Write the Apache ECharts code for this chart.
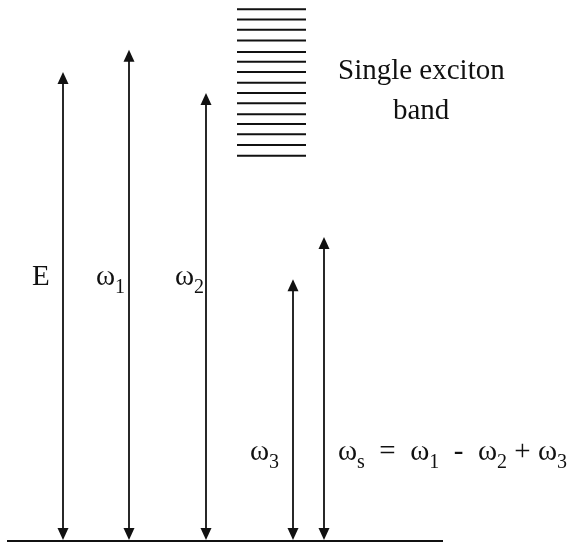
<!DOCTYPE html>
<html><head><meta charset="utf-8">
<script src="https://cdn.jsdelivr.net/npm/echarts@6/dist/echarts.min.js"></script>
<style>html,body{margin:0;padding:0;background:#fff}#c{width:572px;height:545px}</style>
</head><body><div id="c"></div>
<script>
// ---- data ----
const arrowNames = ['E', 'ω1', 'ω2', 'ω3', 'ωs'];
const arrowSlots = [63, 129, 206, 293, 324];          // horizontal slot of each transition (diagram units)
const arrowEnergies = [86.7, 90.8, 82.8, 48.4, 56.2];  // energy of each transition (ground = 0)
const bandLevels = [98.3, 96.4, 94.5, 92.5, 90.4, 88.6, 86.7, 84.7, 82.8, 80.9, 78.9, 77.1, 75.2, 73.2, 71.2];
const groundLevel = 0;

// ---- layout ----
const layout = { bandFrom: 237, bandTo: 306, groundFrom: 7, groundTo: 443 };
const serif = '"Liberation Serif","DejaVu Serif",serif';
const ink = '#111';

const chart = echarts.init(document.getElementById('c'));

const richStyles = {
  m: { fontSize: 29, fontFamily: serif, color: ink, lineHeight: 42 },
  s: { fontSize: 20, fontFamily: serif, color: ink, lineHeight: 42, verticalAlign: 'bottom' }
};
function rtext(x, y, text, fs) {
  return { type: 'text', x: x, y: y, silent: true,
    style: { text: text, rich: richStyles, verticalAlign: 'middle', align: 'left',
             font: (fs || 29) + 'px ' + serif, fill: ink } };
}

chart.setOption({
  animation: false,
  grid: { left: 0, right: 0, top: 0, bottom: 4 },
  xAxis: { type: 'value', min: 0, max: 572, show: false },
  yAxis: { type: 'value', min: 0, max: 100, show: false },
  series: [
    { // ground state
      type: 'custom', silent: true,
      data: [[groundLevel]],
      renderItem: function (params, api) {
        const a = api.coord([layout.groundFrom, api.value(0)]);
        const b = api.coord([layout.groundTo, api.value(0)]);
        return { type: 'line', shape: { x1: a[0], y1: a[1], x2: b[0], y2: b[1] },
                 style: { stroke: ink, lineWidth: 2 } };
      }
    },
    { // single exciton band
      type: 'custom', silent: true,
      data: bandLevels.map(v => [v]),
      renderItem: function (params, api) {
        const a = api.coord([layout.bandFrom, api.value(0)]);
        const b = api.coord([layout.bandTo, api.value(0)]);
        return { type: 'line', shape: { x1: a[0], y1: a[1], x2: b[0], y2: b[1] },
                 style: { stroke: ink, lineWidth: 2 } };
      }
    },
    { // transition arrows
      type: 'custom', silent: true,
      data: arrowSlots.map((x, i) => [x, arrowEnergies[i], arrowNames[i]]),
      renderItem: function (params, api) {
        const x = api.value(0), e = api.value(1);
        const t = api.coord([x, e]);
        const b = api.coord([x, groundLevel]);
        const H = 12, W = 5.5;
        return { type: 'group', children: [
          { type: 'line', shape: { x1: t[0], y1: t[1] + H - 1, x2: b[0], y2: b[1] - H + 1 },
            style: { stroke: ink, lineWidth: 1.8 } },
          { type: 'polygon', shape: { points: [[t[0], t[1]], [t[0] - W, t[1] + H], [t[0] + W, t[1] + H]] },
            style: { fill: ink } },
          { type: 'polygon', shape: { points: [[b[0], b[1] - 1], [b[0] - W, b[1] - H - 1], [b[0] + W, b[1] - H - 1]] },
            style: { fill: ink } }
        ] };
      }
    }
  ],
  graphic: [
    rtext(338, 71, 'Single exciton', 29),
    rtext(393, 111, 'band', 29),
    rtext(32, 277, '{m|E}'),
    rtext(96, 277, '{m|ω}{s|1}'),
    rtext(175, 277, '{m|ω}{s|2}'),
    rtext(250, 452, '{m|ω}{s|3}'),
    rtext(338, 452, '{m|ω}{s|s}{m|  =  ω}{s|1}{m|  -  ω}{s|2}{m| + ω}{s|3}')
  ]
});
</script></body></html>
